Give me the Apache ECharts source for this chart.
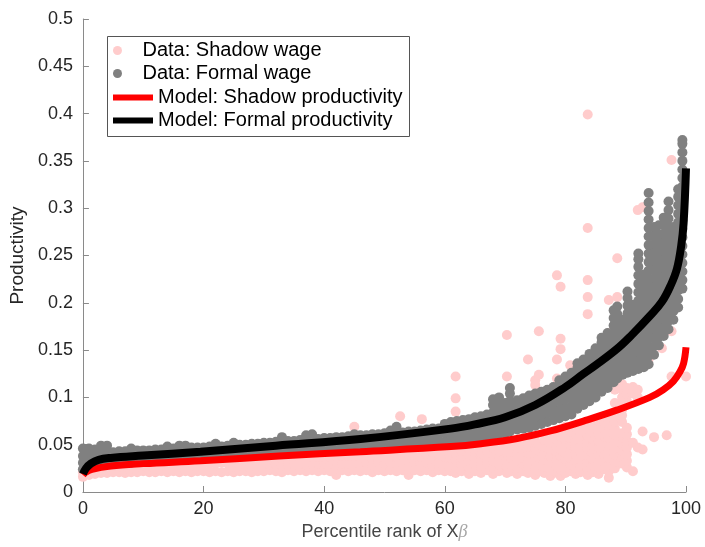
<!DOCTYPE html>
<html>
<head>
<meta charset="utf-8">
<script src="https://cdn.jsdelivr.net/npm/echarts@6/dist/echarts.min.js"></script>
<style>
  html, body { margin: 0; padding: 0; background: #fff; }
  #chart { width: 705px; height: 547px; }
</style>
</head>
<body>
<div id="chart"></div>
<script>
// scatter data, one column per x: [x, [y values]]
const shadowWage = [
  [0, [.016, .021]], [1, [.018, .023]], [2, [.019, .024]], [3, [.020, .025]],
  [4, [.020, .026]], [5, [.021, .026]], [6, [.021, .027]], [7, [.020, .027]],
  [8, [.021, .027]], [9, [.021, .028]], [10, [.022, .028]], [11, [.021, .028]],
  [12, [.021, .029]], [13, [.022, .029]], [14, [.021, .029]], [15, [.022, .029]],
  [16, [.021, .030]], [17, [.022, .030]], [18, [.021, .030]], [19, [.022, .030]],
  [20, [.022, .031]], [21, [.021, .030]], [22, [.022, .031]], [23, [.021, .031]],
  [24, [.022, .031]], [25, [.021, .027, .032]], [26, [.022, .028, .033]],
  [27, [.022, .028, .033]], [28, [.021, .028, .034]], [29, [.022, .028, .034]],
  [30, [.022, .029, .034]], [31, [.023, .029, .035]], [32, [.022, .029, .035]],
  [33, [.021, .028, .035]], [34, [.023, .029, .035]], [35, [.022, .029, .036]],
  [36, [.023, .030, .036]], [37, [.022, .029, .036]], [38, [.023, .030, .037]],
  [39, [.022, .030, .037]], [40, [.023, .030, .037]], [41, [.022, .030, .037]],
  [42, [.018, .025, .032, .038]], [43, [.023, .030, .038]], [44, [.022, .030, .038]],
  [45, [.023, .031, .038, .069]], [46, [.022, .030, .038]], [47, [.023, .031, .039]],
  [48, [.021, .028, .035, .040]], [49, [.023, .031, .039]], [50, [.022, .030, .037, .040]],
  [51, [.023, .031, .039]], [52, [.022, .030, .037, .041]], [52.6, [.080]],
  [53, [.023, .031, .039]], [54, [.018, .025, .032, .040]], [55, [.023, .031, .040]],
  [56, [.022, .030, .037, .042]], [56.2, [.077]], [57, [.023, .031, .040]],
  [58, [.021, .028, .035, .042]], [59, [.023, .031, .040]], [60, [.022, .030, .037, .044]],
  [61, [.022, .029, .036, .043]],
  [61.8, [.020, .027, .034, .041, .074, .085, .099, .122]],
  [62.8, [.022, .029, .036, .043]], [64, [.019, .026, .033, .040, .046]],
  [65, [.022, .029, .036, .043]], [66, [.020, .027, .034, .041, .047]],
  [67, [.023, .030, .037, .044]], [68, [.019, .026, .033, .040, .047]],
  [69, [.022, .029, .036, .043, .050, .083, .090]],
  [70.3, [.020, .027, .034, .041, .048, .122, .166]],
  [71, [.022, .029, .036, .043, .050]], [72, [.019, .026, .033, .040, .047, .054]],
  [73, [.022, .029, .036, .043, .050]],
  [73.8, [.020, .027, .034, .041, .048, .055, .087, .094, .100, .140]],
  [75, [.018, .025, .032, .039, .046, .053, .060, .113, .118]],
  [75.6, [.022, .029, .036, .043, .050, .124, .170]],
  [76.5, [.020, .027, .034, .041, .048, .055, .062]],
  [77.5, [.017, .024, .031, .038, .045, .052, .059]],
  [78.6, [.020, .027, .034, .041, .048, .055, .062, .120, .140, .229]],
  [79.2, [.017, .024, .031, .038, .045, .052, .059, .066, .151, .162, .217]],
  [80, [.020, .027, .034, .041, .048, .055, .062, .069]],
  [80.8, [.022, .029, .036, .043, .050, .057, .064, .115, .134]],
  [81.7, [.019, .026, .033, .040, .047, .054, .061, .068]],
  [82.5, [.021, .028, .035, .042, .049, .056, .063, .070]],
  [83.7, [.018, .025, .032, .039, .046, .053, .060, .067, .074, .188, .206, .224, .279, .399]],
  [84.5, [.021, .028, .035, .042, .049, .056, .063, .070]],
  [85.5, [.019, .026, .033, .040, .047, .054, .061, .068, .075]],
  [86.5, [.024, .031, .038, .045, .052, .059, .066, .073, .080]],
  [87.2, [.015, .022, .029, .036, .043, .050, .057, .064, .071, .078, .168, .203]],
  [88.2, [.025, .032, .039, .046, .053, .060, .067, .074, .081, .094, .108]],
  [88.6, [.206, .247]],
  [89.4, [.030, .037, .044, .051, .058, .062, .074, .081, .087, .094, .100, .108, .114]],
  [90.2, [.026, .033, .040, .047, .054, .061, .068, .096, .104, .110]],
  [91.2, [.022, .052, .104, .111]],
  [92.0, [.047, .100, .108, .298]],
  [92.8, [.045, .064, .301]],
  [93.8, [.140]], [94.7, [.058]], [96, [.152]], [96.8, [.060]],
  [97.6, [.122, .170, .351]], [100, [.122]]
];

const formalWage = [
  [0, [.024, .031, .038, .046]], [1, [.026, .033, .040, .046]], [2, [.028, .034, .040, .045]],
  [3, [.029, .035, .041, .049]], [4, [.030, .036, .042, .049]], [5, [.030, .036, .042]],
  [6, [.031, .037, .043]], [7, [.031, .037, .043]], [8, [.031, .037, .043, .046]],
  [9, [.032, .038, .044]], [10, [.032, .038, .044]], [11, [.032, .038, .044]],
  [12, [.033, .039, .045]], [13, [.033, .039, .045]], [14, [.033, .039, .045, .048]],
  [15, [.034, .040, .046]], [16, [.034, .040, .046, .049]], [17, [.034, .040, .046, .049]],
  [18, [.035, .041, .047]], [19, [.035, .041, .047]], [20, [.035, .041, .047]],
  [21, [.036, .042, .048]], [22, [.036, .042, .048, .051]], [23, [.036, .042, .048]],
  [24, [.037, .043, .049]], [25, [.037, .043, .049, .052]], [26, [.038, .044, .050]],
  [27, [.038, .044, .050]], [28, [.039, .045, .051]], [29, [.039, .045, .051]],
  [30, [.040, .046, .052]], [31, [.040, .046, .052]], [32, [.041, .047, .053]],
  [33, [.041, .047, .053, .058]], [34, [.042, .048, .054]], [35, [.042, .048, .054]],
  [36, [.043, .049, .055]], [37, [.043, .049, .055, .060]], [38, [.044, .050, .056, .061]],
  [39, [.044, .050, .056]], [40, [.045, .051, .057]], [41, [.045, .051, .057]],
  [42, [.045, .052, .058]], [43, [.046, .052, .058]], [44, [.046, .053, .059]],
  [45, [.046, .053, .059, .061]], [46, [.047, .054, .060]], [47, [.047, .054, .060]],
  [48, [.048, .055, .061]], [49, [.048, .055, .061]], [50, [.049, .056, .062]],
  [51, [.049, .056, .062, .065]], [52, [.049, .057, .063, .069]], [53, [.050, .057, .063]],
  [54, [.050, .058, .064]], [55, [.051, .058, .064]], [56, [.051, .059, .065]],
  [57, [.052, .060, .066]], [58, [.052, .060, .067]], [59, [.053, .061, .067]],
  [60, [.053, .062, .068, .072]],
  [61, [.054, .061, .068, .074]], [62, [.055, .062, .069, .075]],
  [63, [.055, .063, .070, .076]], [64, [.056, .064, .071, .077]],
  [65, [.057, .065, .072, .079]], [66, [.058, .066, .073, .080]],
  [67, [.059, .067, .075, .082]], [68, [.060, .068, .076, .084, .092, .098]],
  [69, [.061, .069, .077, .085, .093, .100]], [70, [.062, .070, .079, .087, .094]],
  [70.8, [.064, .072, .080, .088, .096, .104, .110]],
  [72, [.066, .074, .082, .090, .097]], [73, [.067, .075, .084, .092, .099]],
  [74, [.068, .077, .086, .094, .102]], [75, [.070, .079, .088, .096, .104]],
  [76, [.072, .081, .090, .098, .106]], [77, [.074, .083, .092, .100, .108]],
  [78, [.076, .085, .094, .103, .111]], [79, [.078, .087, .096, .105, .113, .118]],
  [80, [.080, .089, .098, .107, .116, .122]],
  [81, [.082, .091, .100, .109, .118, .126]],
  [82, [.088, .097, .106, .115, .124, .131, .136]],
  [83, [.092, .101, .110, .119, .128, .135, .140]],
  [84, [.096, .105, .114, .123, .132, .139, .146]],
  [85, [.100, .109, .118, .127, .136, .144, .152]],
  [86, [.106, .115, .124, .133, .142, .150, .158, .163]],
  [87, [.110, .119, .128, .137, .146, .154, .162, .168]],
  [88, [.116, .125, .134, .143, .152, .160, .168, .176, .184, .192]],
  [88.6, [.120, .129, .138, .147, .156, .164, .172, .180, .188, .196]],
  [89.5, [.124, .133, .142, .151, .160, .168, .176, .182]],
  [90.3, [.126, .135, .144, .153, .162, .171, .180, .189, .197, .205, .212]],
  [91.2, [.128, .137, .146, .155, .164, .173, .182, .190, .198]],
  [92.1, [.130, .139, .148, .157, .166, .175, .184, .193, .202, .211, .220, .229, .238, .246, .252]],
  [93, [.132, .141, .150, .159, .168, .177, .186, .195, .204, .213, .222, .230]],
  [93.8, [.135, .144, .153, .162, .171, .180, .189, .198, .207, .216, .225, .234, .243, .252, .261, .270, .279, .288, .297, .306, .316]],
  [94.7, [.145, .154, .163, .172, .181, .190, .199, .208, .217, .226, .235, .244, .253, .262, .271, .280]],
  [95.5, [.155, .164, .173, .182, .191, .200, .209, .218, .227, .236, .245, .254, .263, .272, .282]],
  [96.3, [.165, .174, .183, .192, .201, .210, .219, .228, .237, .246, .255, .264, .273, .282, .290]],
  [97.1, [.172, .181, .190, .199, .208, .217, .226, .235, .244, .253, .262, .271, .280, .289, .298, .307]],
  [97.9, [.182, .191, .200, .209, .218, .227, .236, .245, .254, .263, .272, .280]],
  [98.7, [.195, .204, .213, .222, .231, .240, .249, .258, .267, .276, .285, .294, .303, .312, .320]],
  [99.4, [.215, .224, .233, .242, .251, .260, .269, .278, .287, .296, .305, .314, .323, .332, .341, .350, .359, .368, .372]]
];

// model curves
const shadowModelX = [0, 0.5, 1.5, 4.6, 10, 19.5, 32.5, 46, 61, 66, 72, 77.5, 83, 88.5, 94, 96.2, 97.9, 99, 99.6, 100];
const shadowModelY = [.018, .021, .024, .0275, .030, .033, .038, .0426, .048, .051, .0565, .0645, .075, .0865, .100, .108, .117, .127, .136, .153];
const formalModelX = [0, 0.5, 1.3, 2.6, 4.6, 10, 19.5, 32, 46, 61, 65, 70, 75, 80, 83, 85, 88.5, 91, 94, 96, 97.5, 98.5, 99.2, 99.6, 100];
const formalModelY = [.019, .025, .030, .034, .036, .0385, .0426, .049, .056, .067, .0715, .079, .092, .111, .125, .134, .151, .166, .186, .201, .219, .236, .260, .284, .342];

const xTicks = { min: 0, max: 100, interval: 20 };
const yTicks = { min: 0, max: 0.5, interval: 0.05 };

const flat = cols => cols.flatMap(([x, ys]) => ys.map(y => [x, y]));
const zip = (xs, ys) => xs.map((x, i) => [x, ys[i]]);

const font = 'Liberation Sans, Arial, Helvetica, sans-serif';
const axisGray = '#8a8a8a';

const chart = echarts.init(document.getElementById('chart'));
chart.setOption({
  animation: false,
  textStyle: { fontFamily: font },
  grid: { left: 82, right: 19, top: 19, bottom: 55 },
  xAxis: {
    type: 'value',
    min: xTicks.min, max: xTicks.max, interval: xTicks.interval,
    axisLine: { show: true, lineStyle: { color: axisGray, width: 1 } },
    axisTick: { show: true, inside: true, length: 6, lineStyle: { color: axisGray } },
    splitLine: { show: false },
    axisLabel: { fontSize: 18, color: '#262626', margin: 8, fontFamily: font },
    name: 'Percentile rank of X{b|β}',
    nameLocation: 'middle',
    nameGap: 30,
    nameTextStyle: {
      fontSize: 18, color: '#454545', fontFamily: font,
      rich: { b: { fontSize: 18, color: '#a6a6a6', fontStyle: 'italic', fontFamily: 'Liberation Serif, serif' } }
    }
  },
  yAxis: {
    type: 'value',
    min: yTicks.min, max: yTicks.max, interval: yTicks.interval,
    axisLine: { show: true, lineStyle: { color: axisGray, width: 1 } },
    axisTick: { show: true, inside: true, length: 6, lineStyle: { color: axisGray } },
    splitLine: { show: false },
    axisLabel: { fontSize: 18, color: '#262626', margin: 10, fontFamily: font },
    name: 'Productivity',
    nameLocation: 'middle',
    nameGap: 48,
    nameTextStyle: { fontSize: 19, color: '#262626', fontFamily: font }
  },
  graphic: [{
    type: 'rect',
    z: 0,
    shape: { x: 107.5, y: 36.5, width: 302, height: 100 },
    style: { fill: '#fff', stroke: '#555', lineWidth: 1 }
  }],
  legend: [{
    orient: 'vertical', left: 113, top: 39, padding: 0, itemGap: 0,
    itemWidth: 40, itemHeight: 9, selectedMode: false,
    textStyle: { fontSize: 20, color: '#000', lineHeight: 23, fontFamily: font },
    data: [
      { name: 'Data: Shadow wage', icon: 'circle' },
      { name: 'Data: Formal wage', icon: 'circle' }
    ]
  }, {
    orient: 'vertical', left: 113, top: 86, padding: 0, itemGap: 0,
    itemWidth: 40, itemHeight: 6, selectedMode: false,
    textStyle: { fontSize: 20, color: '#000', lineHeight: 23, fontFamily: font },
    data: [
      { name: 'Model: Shadow productivity', icon: 'rect' },
      { name: 'Model: Formal productivity', icon: 'rect' }
    ]
  }],
  series: [
    {
      name: 'Data: Shadow wage', type: 'scatter', clip: false,
      symbolSize: 10, itemStyle: { color: '#ffcccc', opacity: 1 },
      data: flat(shadowWage)
    },
    {
      name: 'Data: Formal wage', type: 'scatter', clip: false,
      symbolSize: 10, itemStyle: { color: '#808080', opacity: 1 },
      data: flat(formalWage)
    },
    {
      name: 'Model: Shadow productivity', type: 'line', showSymbol: false,
      smooth: 0.4,
      lineStyle: { color: '#ff0000', width: 7, cap: 'butt' },
      itemStyle: { color: '#ff0000' },
      data: zip(shadowModelX, shadowModelY)
    },
    {
      name: 'Model: Formal productivity', type: 'line', showSymbol: false,
      smooth: 0.4,
      lineStyle: { color: '#000000', width: 8, cap: 'butt' },
      itemStyle: { color: '#000000' },
      data: zip(formalModelX, formalModelY)
    }
  ]
});
</script>
</body>
</html>
